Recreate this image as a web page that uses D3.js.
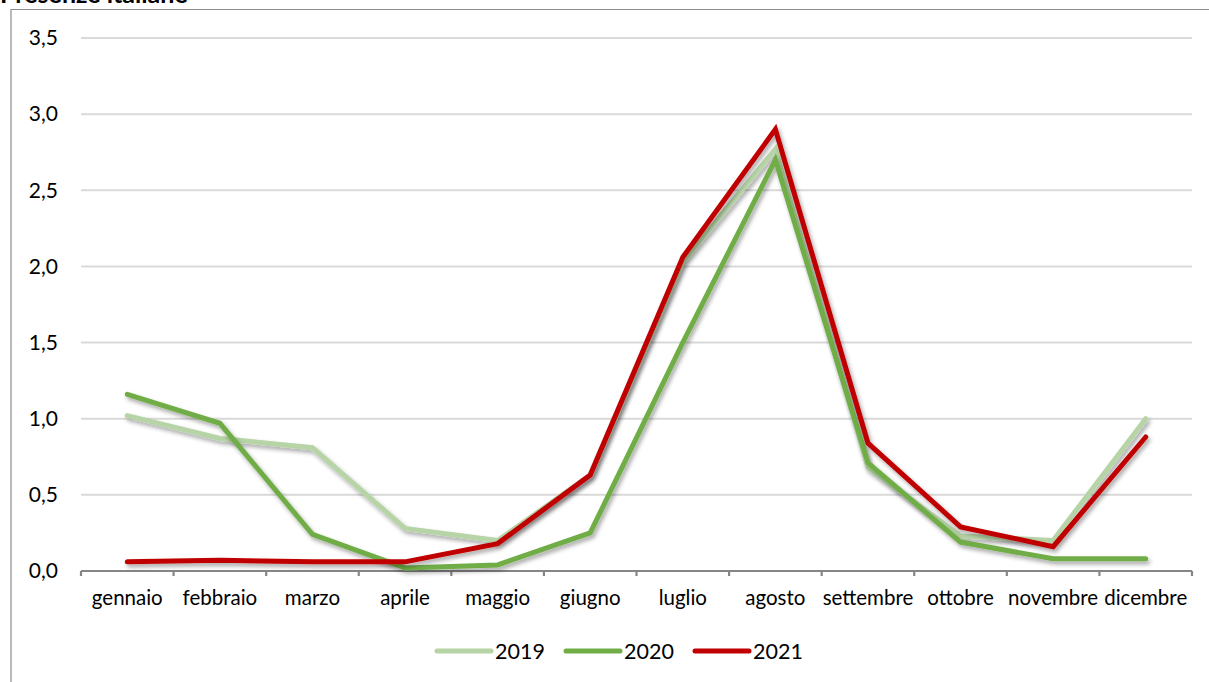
<!DOCTYPE html>
<html><head><meta charset="utf-8">
<script src="https://cdn.jsdelivr.net/npm/d3@7"></script>
<style>
html,body{margin:0;padding:0;background:#fff;overflow:hidden}
text{font-family:Lato,"Open Sans",sans-serif;fill:#000}
</style></head>
<body>
<svg id="c" width="1209" height="682"></svg>
<script>
const title = "Presenze italiane";
const months = ["gennaio","febbraio","marzo","aprile","maggio","giugno","luglio","agosto","settembre","ottobre","novembre","dicembre"];
const years = ["2019","2020","2021"];
const v2019 = [1.02,0.87,0.81,0.28,0.20,0.63,2.03,2.77,0.68,0.23,0.20,1.00];
const v2020 = [1.16,0.97,0.24,0.02,0.04,0.25,1.50,2.70,0.71,0.19,0.08,0.08];
const v2021 = [0.06,0.07,0.06,0.06,0.18,0.63,2.06,2.90,0.84,0.29,0.16,0.88];
const yTicks = [0,0.5,1.0,1.5,2.0,2.5,3.0,3.5];
const colors = ["#b6d4a6","#70ad47","#c00000"];
const series = [v2019,v2020,v2021];

const svg = d3.select("#c");
const defs = svg.append("defs");
const f = defs.append("filter").attr("id","sh").attr("x","-5%").attr("y","-5%").attr("width","110%").attr("height","120%");
f.append("feDropShadow").attr("dx",2).attr("dy",3).attr("stdDeviation",2).attr("flood-color","#000").attr("flood-opacity",0.35);

// border
svg.append("path").attr("d","M11,682 L11,9.5 L1209,9.5").attr("fill","none").attr("stroke","#8c8c8c").attr("stroke-width",1.2);
svg.append("text").attr("x",0).attr("y",3).attr("font-weight","bold").attr("font-size",25).text(title);

const x = d3.scaleBand().domain(months).range([81,1192]);
const y = d3.scaleLinear().domain([0,3.5]).range([571,38]);

const fmt = d => d3.format(".1f")(d).replace(".",",");
// grid
svg.append("g").selectAll("line").data(yTicks.filter(d=>d>0)).join("line")
  .attr("x1",81).attr("x2",1192).attr("y1",d=>y(d)).attr("y2",d=>y(d))
  .attr("stroke","#d9d9d9").attr("stroke-width",2);
// y labels
svg.append("g").selectAll("text").data(yTicks).join("text")
  .attr("x",58).attr("y",d=>y(d)).attr("dy","0.35em").attr("text-anchor","end").attr("font-size",21)
  .text(fmt);

// x axis
const xa = svg.append("g").attr("transform","translate(0,571)");
xa.append("line").attr("x1",81).attr("x2",1192).attr("stroke","#868686").attr("stroke-width",2.2);
const bounds = months.map(m=>x(m)).concat([x.range()[1]]);
xa.selectAll("line.t").data(bounds).join("line").attr("class","t")
  .attr("x1",d=>d).attr("x2",d=>d).attr("y1",0).attr("y2",5).attr("stroke","#868686").attr("stroke-width",2.2);
xa.selectAll("text").data(months).join("text")
  .attr("x",d=>x(d)+x.bandwidth()/2).attr("y",34).attr("text-anchor","middle").attr("font-size",20.5)
  .text(d=>d);

const line = d3.line().x((d,i)=>x(months[i])+x.bandwidth()/2).y(d=>y(d));
svg.append("g").selectAll("path").data(series).join("path")
  .attr("d",line).attr("fill","none").attr("stroke",(d,i)=>colors[i]).attr("stroke-width",5)
  .attr("stroke-linejoin","miter").attr("stroke-linecap","round").attr("filter","url(#sh)");

// legend
const lg = svg.append("g");
const lx = [437,566,695];
years.forEach((yr,i)=>{
  lg.append("line").attr("x1",lx[i]).attr("x2",lx[i]+54).attr("y1",651).attr("y2",651)
    .attr("stroke",colors[i]).attr("stroke-width",5).attr("stroke-linecap","round");
  lg.append("text").attr("x",lx[i]+58).attr("y",651).attr("dy","0.35em").attr("font-size",21.5).text(yr);
});
</script>
</body></html>
